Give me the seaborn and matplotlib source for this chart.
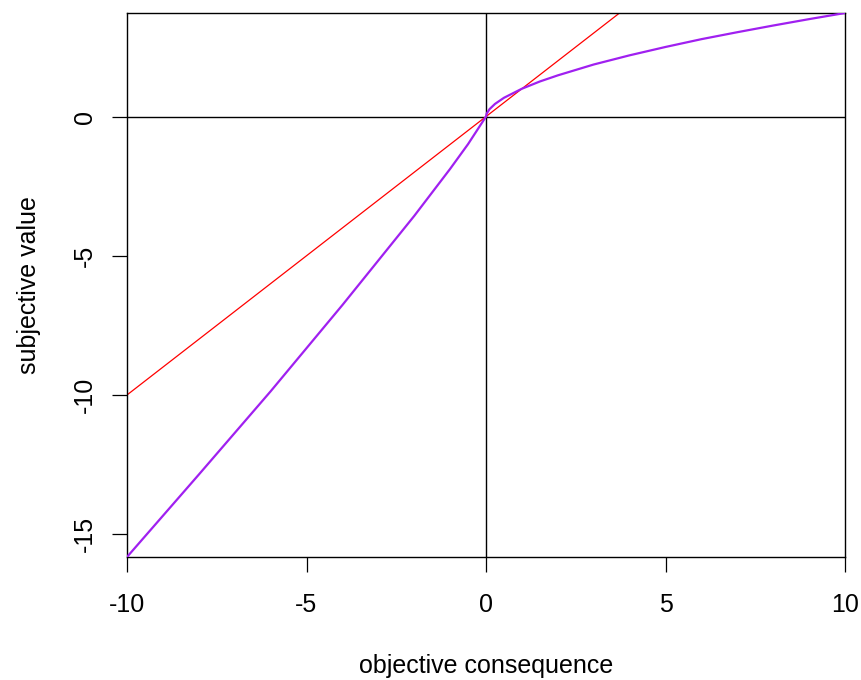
import matplotlib
matplotlib.use("Agg")
import matplotlib.pyplot as plt
import seaborn as sns
import pandas as pd

# Objective consequence (x) and subjective value of the value function
gain_x = [0, 0.02, 0.1, 0.25, 0.5, 1, 1.5, 2, 3, 4, 5, 6, 7, 8, 9, 10]
gain_v = [0, 0.108, 0.269, 0.454, 0.674, 1.0, 1.26, 1.48, 1.87, 2.20, 2.50, 2.78, 3.03, 3.27, 3.50, 3.72]
loss_x = [-10, -8, -6, -4, -2, -1, -0.5, 0]
loss_v = [-15.82, -12.86, -9.87, -6.77, -3.57, -1.88, -0.99, 0]

# Reference line: subjective value equals objective consequence
ident_x = [-10, 10]
ident_v = [-10, 10]

x_ticks = [-10, -5, 0, 5, 10]
y_ticks = [-15, -10, -5, 0]

value_df = pd.DataFrame({"x": loss_x + gain_x[1:], "v": loss_v + gain_v[1:]})
ident_df = pd.DataFrame({"x": ident_x, "v": ident_v})

sns.set_style("white")
plt.rcParams["font.family"] = ["Liberation Sans", "DejaVu Sans"]

fig = plt.figure(figsize=(8.61, 6.8), dpi=100)
ax = fig.add_axes([127 / 861, 1 - 557 / 680, (845 - 127) / 861, (557 - 13) / 680])

ax.axhline(0, color="black", lw=1.0, zorder=1)
ax.axvline(0, color="black", lw=1.0, zorder=1)

sns.lineplot(data=ident_df, x="x", y="v", ax=ax, color="#FF0000", lw=0.9,
             sort=False, estimator=None, zorder=2)
sns.lineplot(data=value_df, x="x", y="v", ax=ax, color="#A020F0", lw=1.6,
             sort=False, estimator=None, zorder=3)

ax.set_xlim(min(ident_x), max(ident_x))
ax.set_ylim(min(loss_v), max(gain_v))
ax.set_xticks(x_ticks)
ax.set_yticks(y_ticks)
ax.set_xticklabels([str(t) for t in x_ticks])
ax.set_yticklabels([str(t) for t in y_ticks], rotation=90, va="center")

for side in ax.spines.values():
    side.set_color("black")
    side.set_linewidth(1.0)

ax.tick_params(axis="both", which="major", direction="out", length=11, width=0.9,
               color="black", labelsize=18, labelcolor="black",
               bottom=True, left=True)
ax.tick_params(axis="x", pad=15)
ax.tick_params(axis="y", pad=10.6)

ax.set_xlabel("objective consequence", fontsize=18, labelpad=26.5, color="black")
ax.set_ylabel("subjective value", fontsize=18, labelpad=23, color="black")

fig.savefig("out.png", dpi=100, facecolor="white")
